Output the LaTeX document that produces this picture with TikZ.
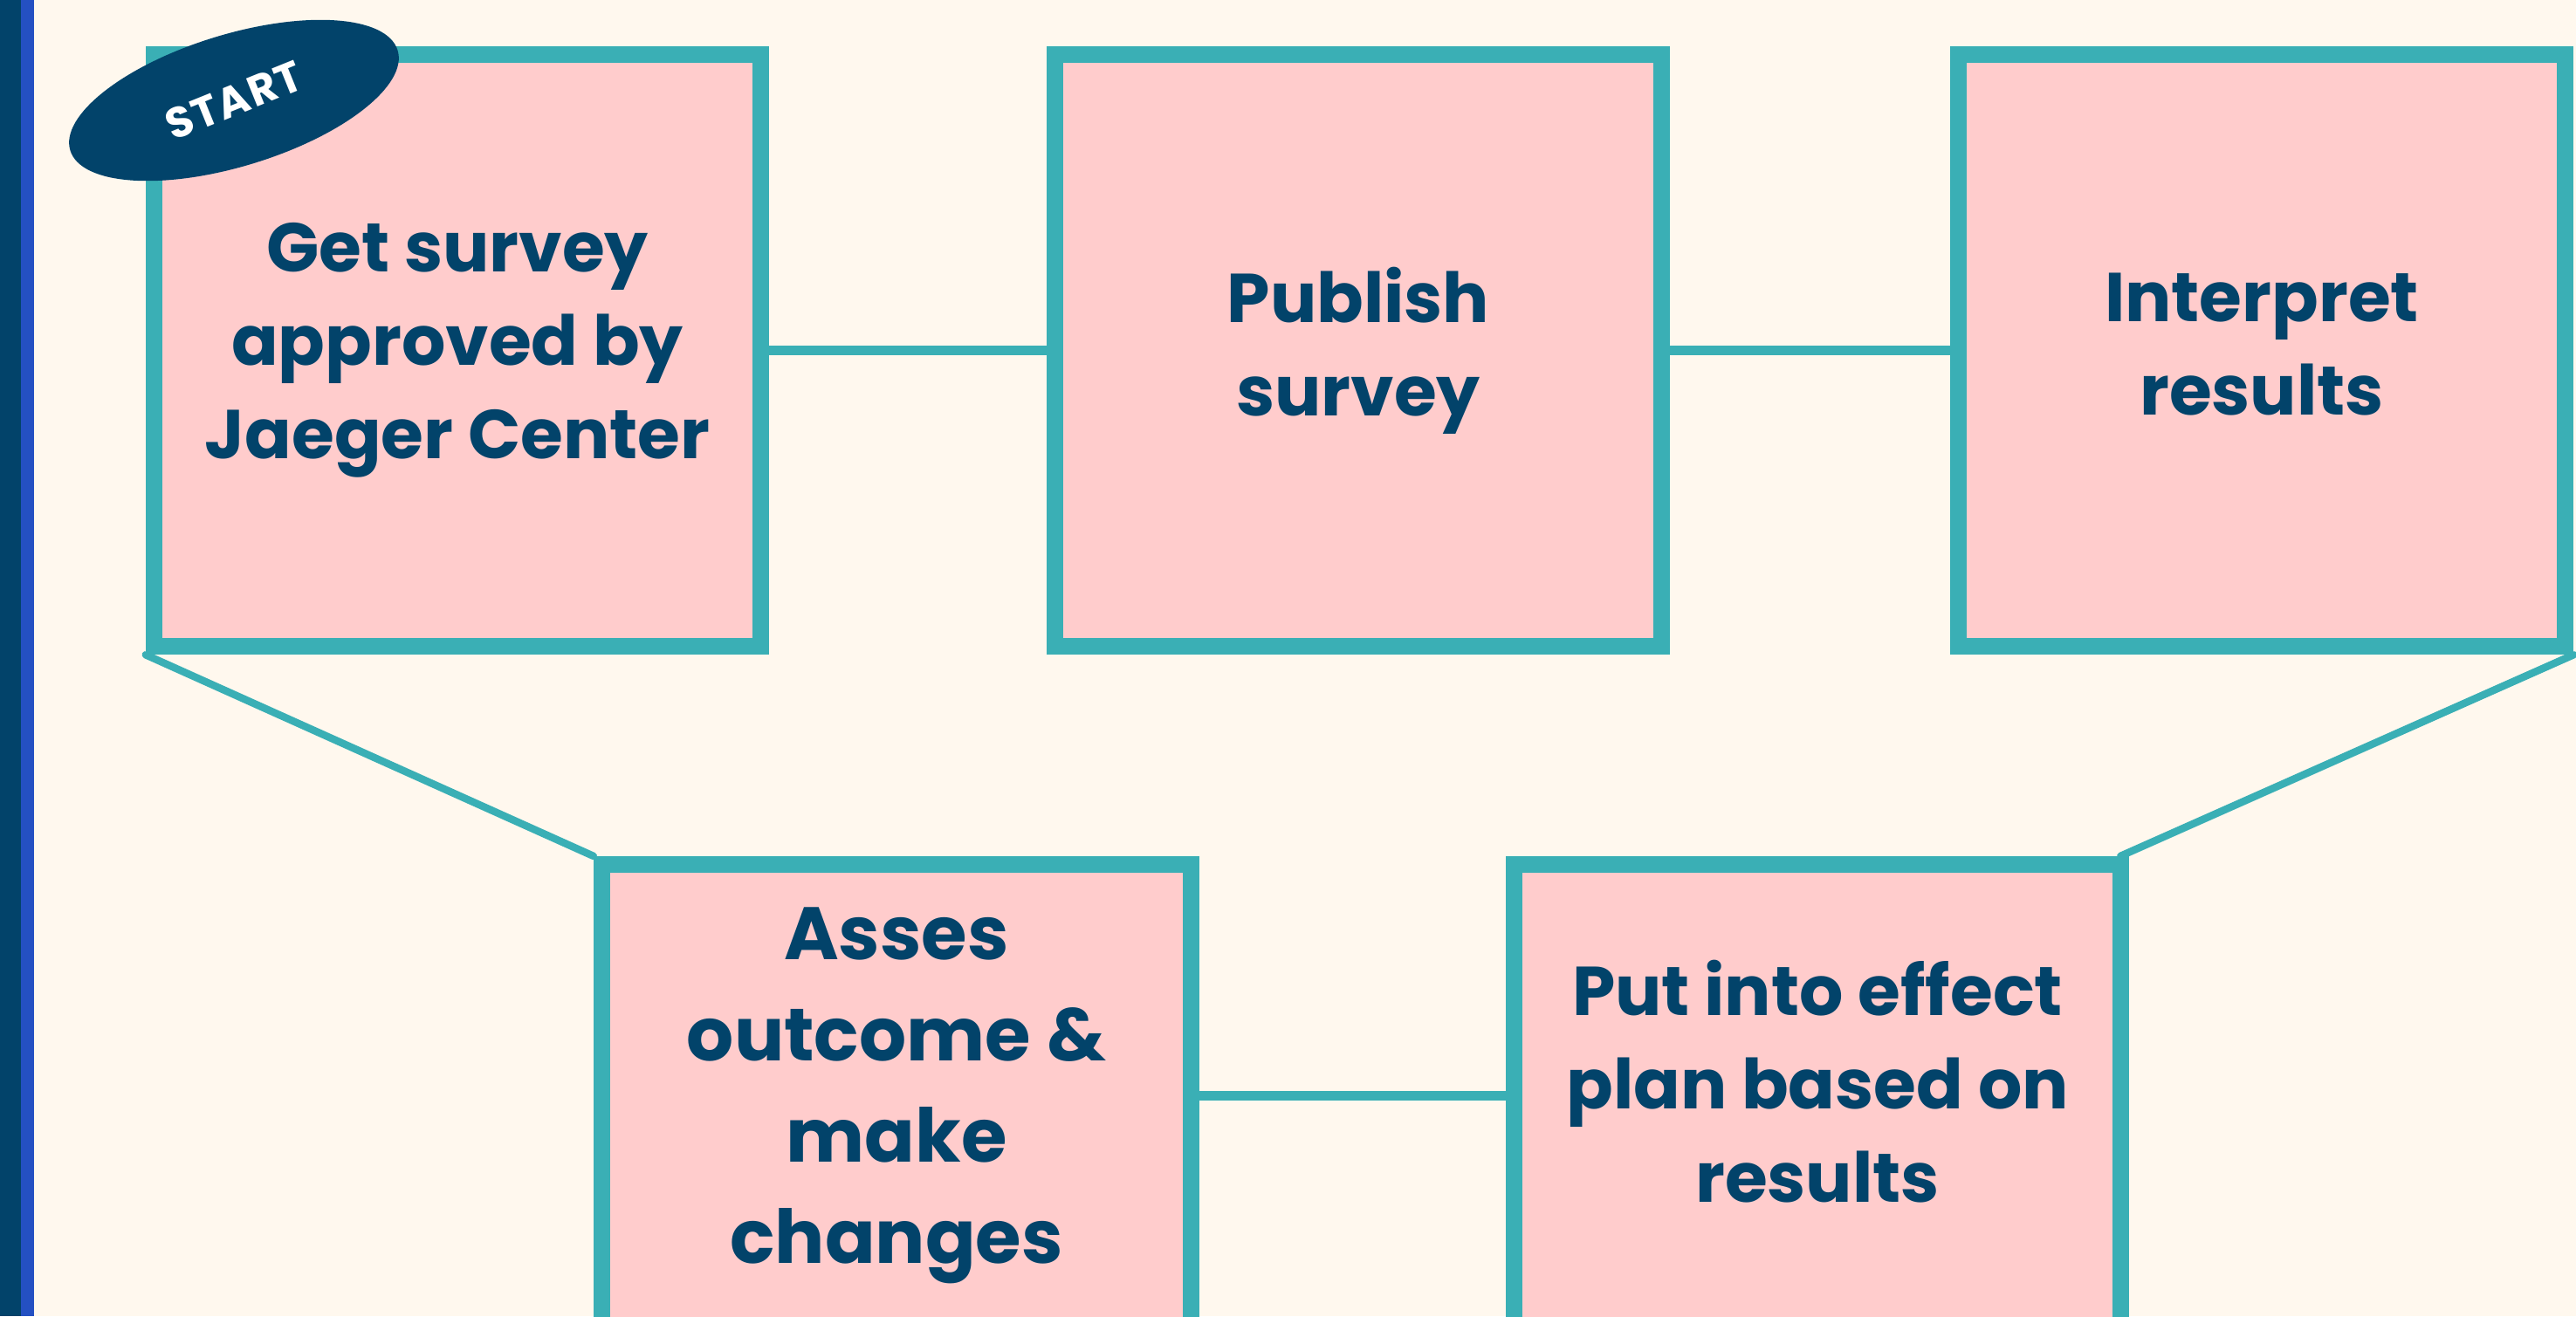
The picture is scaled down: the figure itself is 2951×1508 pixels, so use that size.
\documentclass[tikz,border=0pt]{standalone}
\usepackage{fontspec}
\setmainfont{Poppins}
\newfontfamily\startfont{Poppins}[LetterSpace=4]
\usetikzlibrary{shapes.geometric}
\definecolor{cream}{HTML}{FFF8EE}
\definecolor{pinkfill}{HTML}{FFCCCC}
\definecolor{stepteal}{HTML}{3AAFB5}
\definecolor{navy}{HTML}{02436A}
\definecolor{stripeblue}{HTML}{2450C2}

\begin{document}
\begin{tikzpicture}[x=0.01cm,y=-0.01cm,
          stage/.style={draw=stepteal,fill=pinkfill,line width=0.19cm,text=navy,align=center,%
          font=\fontsize{22.5}{30.4}\selectfont\bfseries,minimum width=6.95cm,minimum height=6.78cm,inner sep=0pt},
          link/.style={stepteal,line width=0.11cm,line cap=round}]
          \fill[cream] (0,0) rectangle (2951,1508);
          \useasboundingbox (0,0) rectangle (2951,1508);
          \fill[navy] (0,0) rectangle (24,1508);
          \fill[stripeblue] (24,0) rectangle (39,1508);
          \node[stage] (survey) at (524,401.5) {Get survey\\approved by\\Jaeger Center};
          \node[stage] (publish) at (1556,401.5) {Publish\\survey};
          \node[stage] (interpret) at (2591,401.5) {Interpret\\results\rule[-4pt]{0pt}{1pt}};
          \node[stage,minimum width=6.75cm,minimum height=5.29cm,%
          font=\fontsize{24.2}{33}\selectfont\bfseries] (assess) at (1027,1255) {Asses\\outcome \&\\make\\changes};
          \node[stage,minimum height=5.29cm] (effect) at (2082,1255) {Put into effect\\plan based on\\results\rule[-9pt]{0pt}{1pt}};
          \draw[link] (survey.east)--(publish.west);
          \draw[link] (publish.east)--(interpret.west);
          \draw[link] (assess.east)--(effect.west);
          \draw[link,line width=0.085cm] (survey.south west)--(assess.north west);
          \draw[link,line width=0.085cm] (interpret.south east)--([xshift=-0.1cm]effect.north east);
          \node[ellipse,fill=navy,minimum width=3.92cm,minimum height=1.51cm,inner sep=0pt,rotate=17,%
          text=white,font=\startfont\fontsize{14}{16}\selectfont\bfseries] (start) at (268,115) {\rotatebox{5}{START}};
        \end{tikzpicture}
\end{document}
